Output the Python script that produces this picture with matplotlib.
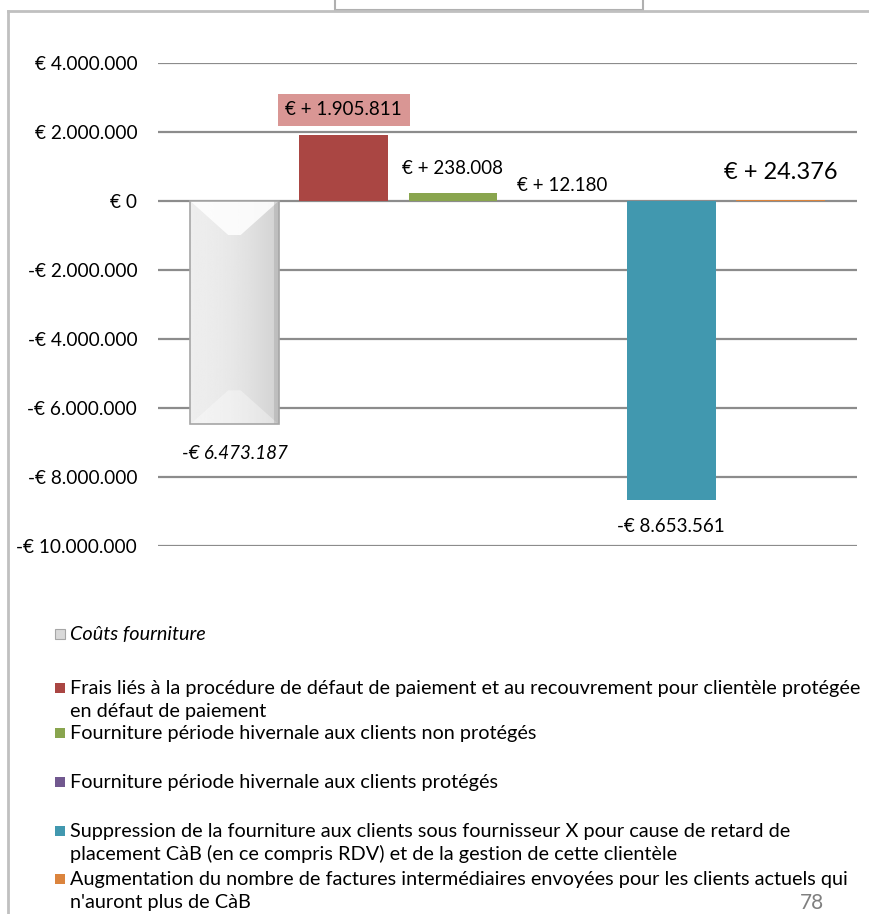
import numpy as np
import matplotlib.pyplot as plt
from matplotlib.patches import Rectangle, Polygon

plt.rcParams['font.family'] = ['Lato', 'DejaVu Sans']

categories = [
    "Coûts fourniture",
    "Frais liés à la procédure de défaut de paiement et au recouvrement pour clientèle protégée\nen défaut de paiement",
    "Fourniture période hivernale aux clients non protégés",
    "Fourniture période hivernale aux clients protégés",
    "Suppression de la fourniture aux clients sous fournisseur X pour cause de retard de\nplacement CàB (en ce compris RDV) et de la gestion de cette clientèle",
    "Augmentation du nombre de factures intermédiaires envoyées pour les clients actuels qui\nn'auront plus de CàB",
]
values = [-6473187, 1905811, 238008, 12180, -8653561, 24376]
colors = ["#d9d9d9", "#aa4643", "#89a54e", "#71588f", "#4198af", "#db843d"]
yticks = [4000000, 2000000, 0, -2000000, -4000000, -6000000, -8000000, -10000000]


def euro(v, sign=False):
    s = f"{abs(int(v)):,}".replace(",", ".")
    if v < 0:
        return "-€ " + s
    return ("€ + " if sign else "€ ") + s


W, H = 869, 914
fig = plt.figure(figsize=(W / 100, H / 100), dpi=100)
ax = fig.add_axes([158 / W, 1 - 546 / H, (857 - 158) / W, (546 - 63) / H])

x = np.arange(len(values))
bars = ax.bar(x, values, width=0.81, color=colors, zorder=3)
xlim = (-0.70, len(values) - 0.30)
ylim = (-10000000, 4000000)
ax.set_yticks(yticks)
ax.set_yticklabels([euro(v) for v in yticks])
ax.tick_params(axis='y', length=0, pad=15, labelsize=13.7)
ax.set_xticks([])
for s in ax.spines.values():
    s.set_visible(False)
ax.grid(axis='y', color='#8c8c8c', lw=1.6, zorder=1)

# bevelled look for the first (grey) bar
b = bars[0]
bx, bw = b.get_x(), b.get_width()
ytop, ybot = b.get_y() + b.get_height(), b.get_y()
if ytop < ybot:
    ytop, ybot = ybot, ytop
grad = np.linspace(0, 1, 200)
shade = 0.93 - 0.11 * grad ** 2
img = ax.imshow(np.tile(shade, (2, 1)), cmap='gray', vmin=0, vmax=1,
                extent=[bx, bx + bw, ybot, ytop], aspect='auto', zorder=4)
img.set_clip_path(b)
ax.set_xlim(*xlim)
ax.set_ylim(*ylim)
px_per_x = (857 - 158) / (xlim[1] - xlim[0])
px_per_y = (546 - 63) / (ylim[1] - ylim[0])
dx = 38 / px_per_x
dy = 34 / px_per_y
sx = 5 / px_per_x
top = [(bx, ytop), (bx + bw, ytop), (bx + bw - dx, ytop - dy), (bx + dx, ytop - dy)]
bot = [(bx, ybot), (bx + bw, ybot), (bx + bw - dx, ybot + dy), (bx + dx, ybot + dy)]
ax.add_patch(Polygon(top, closed=True, facecolor='white', alpha=0.85, edgecolor='none', zorder=5))
ax.add_patch(Polygon(bot, closed=True, facecolor='white', alpha=0.35, edgecolor='none', zorder=5))
ax.add_patch(Rectangle((bx + bw - sx, ybot), sx, ytop - ybot, facecolor='#9a9a9a', alpha=0.35,
                       edgecolor='none', zorder=5))
ax.add_patch(Rectangle((bx, ybot), bw, ytop - ybot, facecolor='none', edgecolor='#a6a6a6',
                       lw=1.2, zorder=6))

# value labels
lab_fs = 13.5
ax.text(x[0], values[0] - 840000, euro(values[0]), ha='center', va='center',
        fontsize=lab_fs, style='italic', zorder=7)
ax.text(x[1], values[1] + 740000, euro(values[1], True), ha='center', va='center',
        fontsize=lab_fs, zorder=7,
        bbox=dict(boxstyle='square,pad=0.4', facecolor='#d99694', edgecolor='none'))
ax.text(x[2], values[2] + 700000, euro(values[2], True), ha='center', va='center',
        fontsize=lab_fs, zorder=7)
ax.text(x[3], values[3] + 440000, euro(values[3], True), ha='center', va='center',
        fontsize=lab_fs, zorder=7)
ax.text(x[4], values[4] - 780000, euro(values[4]), ha='center', va='center',
        fontsize=lab_fs, zorder=7)
ax.text(x[5], values[5] + 790000, euro(values[5], True), ha='center', va='center',
        fontsize=17, zorder=7)

# legend below the plot, one text per line
rows = [634, 688, 733, 782, 831, 879]
line_gap = 23
for i, (lab, col, yy) in enumerate(zip(categories, colors, rows)):
    fig.patches.append(Rectangle((55 / W, 1 - (yy + 5) / H), 10 / W, 10 / H,
                                 facecolor=col, edgecolor='#a6a6a6' if i == 0 else 'none',
                                 lw=0.8, transform=fig.transFigure))
    for k, line in enumerate(lab.split("\n")):
        fig.text(70 / W, 1 - (yy + 6 + k * line_gap) / H, line, ha='left', va='baseline',
                 fontsize=14.3, style='italic' if i == 0 else 'normal')

# frame lines and top box
fig.add_artist(plt.Line2D([8 / W, 8 / W], [0, 1 - 11 / H], color='#c0c0c0', lw=2,
                          transform=fig.transFigure))
fig.add_artist(plt.Line2D([8 / W, 1], [1 - 11 / H, 1 - 11 / H], color='#c0c0c0', lw=2,
                          transform=fig.transFigure))
fig.patches.append(Rectangle((335 / W, 1 - 10 / H), 308 / W, 20 / H, facecolor='white',
                             edgecolor='#b0b0b0', lw=1.5, transform=fig.transFigure))
fig.text(800 / W, 1 / H, "78", ha='left', va='bottom', fontsize=15, color='#7f7f7f')

fig.savefig("out.png", dpi=100)
